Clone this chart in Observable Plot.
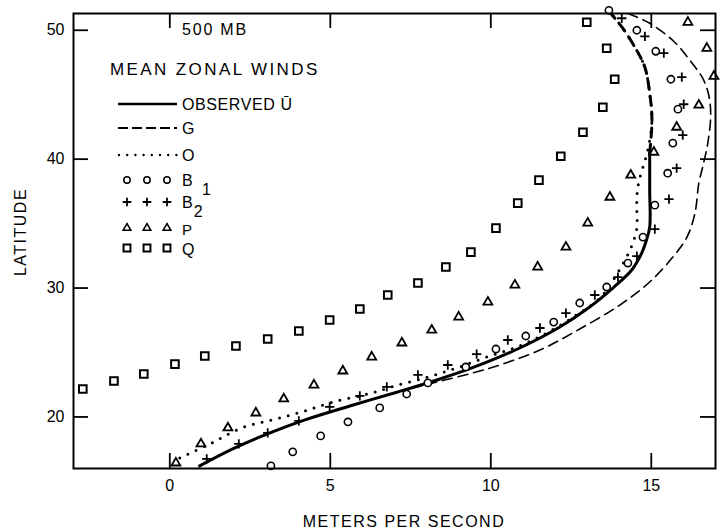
<!DOCTYPE html>
<html><head><meta charset="utf-8">
<script src="https://cdn.jsdelivr.net/npm/d3@7"></script>
<script src="https://cdn.jsdelivr.net/npm/@observablehq/plot@0.6"></script>
<style>
body{margin:0;background:#fff;}
#chart svg text{font-family:"Liberation Sans",Arial,sans-serif;}
</style></head><body><div id="chart"></div>
<script>
// ---- data: [u (m/s), latitude] ----
const xTicks = [0, 5, 10, 15];
const yTicks = [20, 30, 40, 50];

const observedU = [[0.93,16.2],[1.96,17.52],[3.12,18.76],[4.21,19.77],[5.61,20.85],[7.1,21.94],[8.32,22.87],[9.41,23.8],[10.9,25.35],[12.15,26.98],[13.08,28.53],[13.8,30.0],[14.39,31.4],[14.7,32.71],[14.83,33.57],[14.95,34.73],[14.95,37.6],[14.95,40.47],[15.02,43.02],[14.95,45.12],[14.8,47.13],[14.49,48.68],[14.11,50.16],[13.71,51.4]];

const seriesG = [[5.61,20.85],[7.1,21.94],[8.32,22.71],[9.44,23.41],[10.28,24.03],[11.53,25.19],[12.77,26.82],[14.02,28.68],[14.95,30.47],[15.67,32.4],[16.11,33.95],[16.36,35.81],[16.48,38.14],[16.6,39.38],[16.76,41.24],[16.85,43.41],[16.79,44.96],[16.6,46.28],[16.2,47.67],[15.73,49.07],[14.95,50.54],[14.27,51.3]];

const seriesO = [[0.31,16.82],[1.25,17.91],[2.24,19.15],[3.18,19.77],[4.11,20.39],[5.08,21.16],[6.17,21.78],[7.01,22.4],[8.04,23.1],[8.94,23.8],[9.88,24.65],[10.81,25.43],[11.68,26.43],[12.62,27.83],[13.4,29.22],[13.77,30.47],[14.11,31.86],[14.39,33.26],[14.55,34.65],[14.55,35.89],[14.55,37.05],[14.61,38.22],[14.74,39.38],[14.89,40.7],[15.02,43.02],[14.95,45.12],[14.8,47.13],[14.49,48.68],[14.11,50.16],[13.71,51.4]];

const seriesB1 = [[3.15,16.2],[3.83,17.29],[4.7,18.53],[5.55,19.61],[6.54,20.7],[7.38,21.78],[8.04,22.64],[9.22,23.88],[10.16,25.27],[11.09,26.28],[11.96,27.36],[12.77,28.84],[13.61,30.08],[14.27,31.94],[14.74,33.95],[15.11,36.43],[15.51,38.91],[15.67,41.24],[15.83,43.88],[15.61,46.2],[15.14,48.37],[14.55,50.0],[13.68,51.55]];

const seriesB2 = [[1.15,16.74],[2.15,17.91],[3.05,18.76],[4.02,19.69],[4.98,20.78],[5.92,21.63],[6.76,22.33],[7.73,23.26],[8.66,24.03],[9.56,24.88],[10.53,25.97],[11.53,26.9],[12.34,28.06],[13.24,29.46],[13.96,30.85],[14.55,32.48],[15.11,34.57],[15.55,36.9],[15.79,39.3],[15.98,41.86],[16.01,44.26],[15.95,46.36],[15.39,48.22],[14.8,49.53],[14.08,50.93]];

const seriesP = [[0.19,16.43],[0.97,17.91],[1.81,19.15],[2.68,20.31],[3.55,21.4],[4.49,22.48],[5.39,23.57],[6.29,24.65],[7.23,25.74],[8.16,26.74],[9.0,27.75],[9.91,28.91],[10.75,30.23],[11.46,31.63],[12.34,33.18],[13.02,35.04],[13.71,37.05],[14.36,38.76],[15.08,40.54],[15.79,42.48],[16.48,44.19],[16.95,46.43],[16.73,48.6],[16.14,50.62]];

const seriesQ = [[-2.71,22.17],[-1.74,22.79],[-0.81,23.33],[0.16,24.1],[1.09,24.73],[2.06,25.5],[3.05,26.05],[4.02,26.67],[4.98,27.52],[5.92,28.37],[6.79,29.46],[7.73,30.39],[8.6,31.63],[9.38,32.79],[10.16,34.65],[10.84,36.59],[11.5,38.37],[12.18,40.23],[12.87,42.09],[13.49,44.03],[13.86,46.2],[13.61,48.6],[12.99,50.62]];

// ---- layout ----
const W = 723, H = 531;
const mL = 73, mR = 8, mT = 13, mB = 63;
const innerW = W - mL - mR, innerH = H - mT - mB;
const T = 15; // tick length (inward)

const X = d => d[0], Y = d => d[1];
const obsLower = observedU.filter(d => d[1] <= 40.5);
const obsUpper = observedU.filter(d => d[1] >= 40.4);

const chart = Plot.plot({
  width: W, height: H,
  marginLeft: mL, marginRight: mR, marginTop: mT, marginBottom: mB,
  style: {fontFamily: '"Liberation Sans", Arial, sans-serif', fontSize: "16px", background: "white", color: "black"},
  x: {domain: [-3, 17]},
  y: {domain: [16, 51.3]},
  marks: [
    Plot.axisX(xTicks, {tickSize: 0, tickPadding: 11, label: null, fontSize: 16}),
    Plot.axisY(yTicks, {tickSize: 0, tickPadding: 9, label: null, fontSize: 16}),
    Plot.tickX(xTicks, {x: d => d, insetTop: innerH - T, strokeWidth: 1.8}),
    Plot.tickX(xTicks, {x: d => d, insetBottom: innerH - T, strokeWidth: 1.8}),
    Plot.tickY(yTicks, {y: d => d, insetRight: innerW - T, strokeWidth: 1.8}),
    Plot.tickY(yTicks, {y: d => d, insetLeft: innerW - T, strokeWidth: 1.8}),
    Plot.line(seriesG, {x: X, y: Y, curve: "catmull-rom", strokeWidth: 1.6, strokeDasharray: "10,6"}),
    Plot.line(seriesO, {x: X, y: Y, curve: "catmull-rom", strokeWidth: 3, strokeLinecap: "round", strokeDasharray: "0,9"}),
    Plot.line(obsLower, {x: X, y: Y, curve: "catmull-rom", strokeWidth: 3}),
    Plot.line(obsUpper, {x: X, y: Y, curve: "catmull-rom", strokeWidth: 3, strokeDasharray: "9,7"}),
    Plot.dot(seriesQ, {x: X, y: Y, symbol: "square", r: 4.3, stroke: "black", fill: "white", strokeWidth: 2}),
    Plot.dot(seriesP, {x: X, y: Y, symbol: "triangle", r: 3.3, stroke: "black", fill: "white", strokeWidth: 1.8}),
    Plot.dot(seriesB1, {x: X, y: Y, symbol: "circle", r: 3.6, stroke: "black", fill: "white", strokeWidth: 1.6}),
    Plot.dot(seriesB2, {x: X, y: Y, symbol: "plus", r: 3.1, stroke: "black", strokeWidth: 1.8}),
    Plot.frame({stroke: "black", strokeWidth: 2})
  ]
});
document.getElementById("chart").appendChild(chart);

// ---- titles, axis labels and legend ----
const svg = d3.select(chart);
const font = '"Liberation Sans", Arial, sans-serif';
function txt(x, y, s, size, ls) {
  return svg.append("text").attr("x", x).attr("y", y).attr("font-family", font)
    .attr("text-anchor", "start")
    .attr("font-size", size).attr("letter-spacing", ls).attr("fill", "black").text(s);
}
txt(182, 35, "500 MB", 16, 1.8);
txt(110, 75, "MEAN ZONAL WINDS", 17, 2.4);
txt(404, 527, "METERS PER SECOND", 16, 1.5).attr("text-anchor", "middle");
svg.append("text").attr("transform", "translate(26,232) rotate(-90)")
  .attr("text-anchor", "middle").attr("font-family", font).attr("font-size", 16)
  .attr("letter-spacing", 1.5).text("LATITUDE");

const lg = svg.append("g");
lg.append("line").attr("x1", 118).attr("x2", 177).attr("y1", 104).attr("y2", 104).attr("stroke", "black").attr("stroke-width", 2.6);
lg.append("line").attr("x1", 118).attr("x2", 177).attr("y1", 128).attr("y2", 128).attr("stroke", "black").attr("stroke-width", 2).attr("stroke-dasharray", "10,4");
lg.append("line").attr("x1", 119).attr("x2", 177).attr("y1", 155).attr("y2", 155).attr("stroke", "black").attr("stroke-width", 2.4).attr("stroke-linecap", "round").attr("stroke-dasharray", "0,8.2");
const lx = [127, 147, 167];
const sym = (type, r) => d3.symbol(type, r * r * Math.PI)();
lx.forEach(x => {
  lg.append("circle").attr("cx", x).attr("cy", 180).attr("r", 3.2).attr("fill", "white").attr("stroke", "black").attr("stroke-width", 1.5);
  lg.append("path").attr("transform", `translate(${x},202)`).attr("d", sym(d3.symbolPlus, 2.9)).attr("fill", "none").attr("stroke", "black").attr("stroke-width", 1.8);
  lg.append("path").attr("transform", `translate(${x},228)`).attr("d", sym(d3.symbolTriangle, 2.8)).attr("fill", "white").attr("stroke", "black").attr("stroke-width", 1.6);
  lg.append("path").attr("transform", `translate(${x},248)`).attr("d", sym(d3.symbolSquare, 3.9)).attr("fill", "white").attr("stroke", "black").attr("stroke-width", 2);
});
txt(182, 110, "OBSERVED Ū", 16, 0.6);
txt(182, 134, "G", 16, 0);
txt(182, 161, "O", 16, 0);
const b1 = txt(182, 186, "B", 16, 0);
b1.append("tspan").attr("x", 202).attr("dy", 9).text("1");
const b2 = txt(182, 208, "B", 16, 0);
b2.append("tspan").attr("dy", 9).attr("dx", 1).text("2");
txt(182, 235, "P", 15, 0);
txt(182, 255, "Q", 16, 0);
</script>
</body></html>
